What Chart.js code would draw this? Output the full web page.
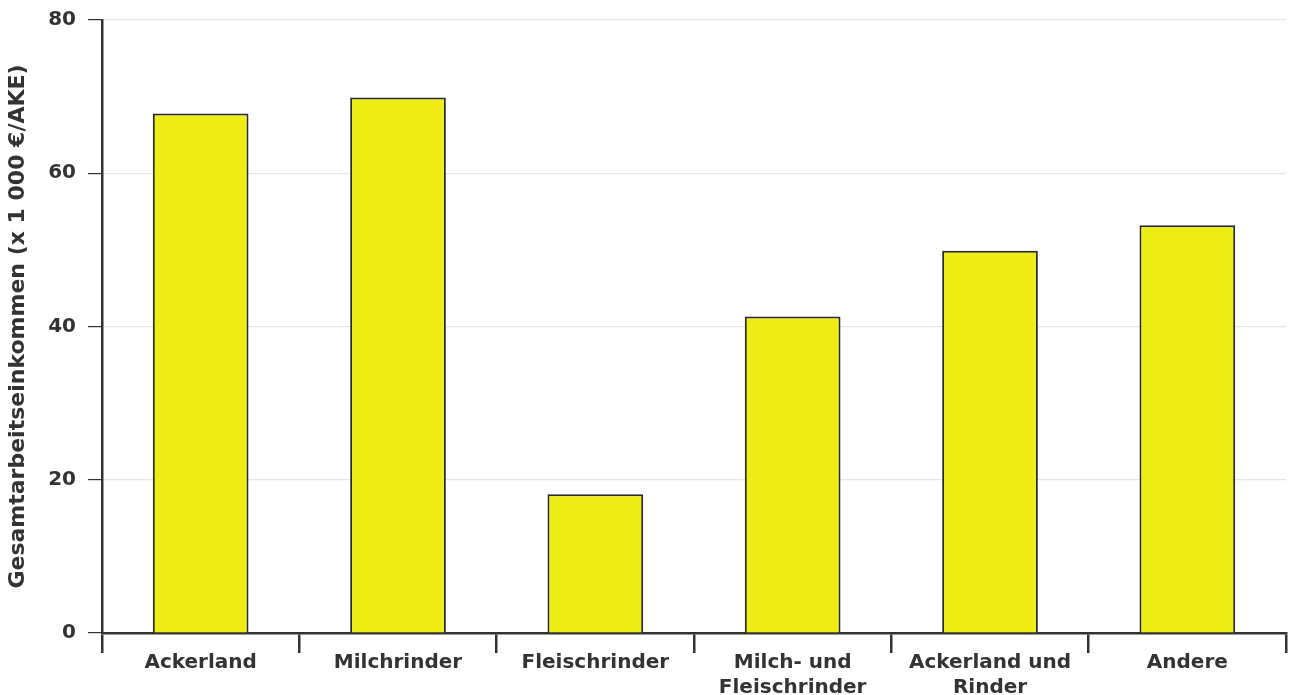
<!DOCTYPE html>
<html>
<head>
<meta charset="utf-8">
<script src="https://cdn.jsdelivr.net/npm/chart.js@4/dist/chart.umd.min.js"></script>
<style>
html,body{margin:0;padding:0;background:#fff;}
#wrap{width:1294px;height:695px;position:relative;}
</style>
</head>
<body>
<div id="wrap"><canvas id="c" width="1294" height="695"></canvas></div>
<script>
const categories = [
  "Ackerland",
  "Milchrinder",
  "Fleischrinder",
  ["Milch- und", "Fleischrinder"],
  ["Ackerland und", "Rinder"],
  "Andere"
];
const values = [67.8, 69.9, 18.1, 41.3, 49.9, 53.2];
const yTicks = [0, 20, 40, 60, 80];
const yTitle = "Gesamtarbeitseinkommen (x 1 000 €/AKE)";

const FONT = "'DejaVu Sans', sans-serif";
const dark = "#333333";

new Chart(document.getElementById('c'), {
  type: 'bar',
  data: {
    labels: categories,
    datasets: [{
      data: values,
      backgroundColor: 'rgb(238,238,22)',
      borderColor: '#2b2b2b',
      borderWidth: 2,
      categoryPercentage: 1,
      barPercentage: 0.485
    }]
  },
  options: {
    responsive: false,
    animation: false,
    layout: { padding: { top: 0, right: 8, left: 0, bottom: 0 } },
    plugins: { legend: { display: false }, tooltip: { enabled: false } },
    scales: {
      x: {
        offset: true,
        grid: { offset: true, drawOnChartArea: false, drawTicks: true, tickLength: 20, tickColor: dark, lineWidth: 2.5 },
        border: { color: dark, width: 2.5 },
        ticks: { color: dark, font: { family: FONT, weight: 'bold', size: 20, lineHeight: 1.25 }, maxRotation: 0, autoSkip: false, padding: -3 },
        afterFit: (s) => { s.height = 62; }
      },
      y: {
        min: 0, max: 80,
        afterBuildTicks: (s) => { s.ticks = yTicks.map(v => ({ value: v })); },
        grid: { color: '#e6e6e6', lineWidth: 1.2, tickLength: 14, tickColor: dark, drawTicks: true },
        border: { color: dark, width: 2.5 },
        ticks: { color: dark, font: { family: FONT, weight: 'bold', size: 20, lineHeight: 0.8 }, padding: 12 },
        title: { display: true, text: yTitle, color: dark, font: { family: FONT, weight: 'bold', size: 22 }, padding: { top: 5, bottom: 4 } },
        afterFit: (s) => { s.width = 102; }
      }
    }
  }
});
</script>
</body>
</html>
